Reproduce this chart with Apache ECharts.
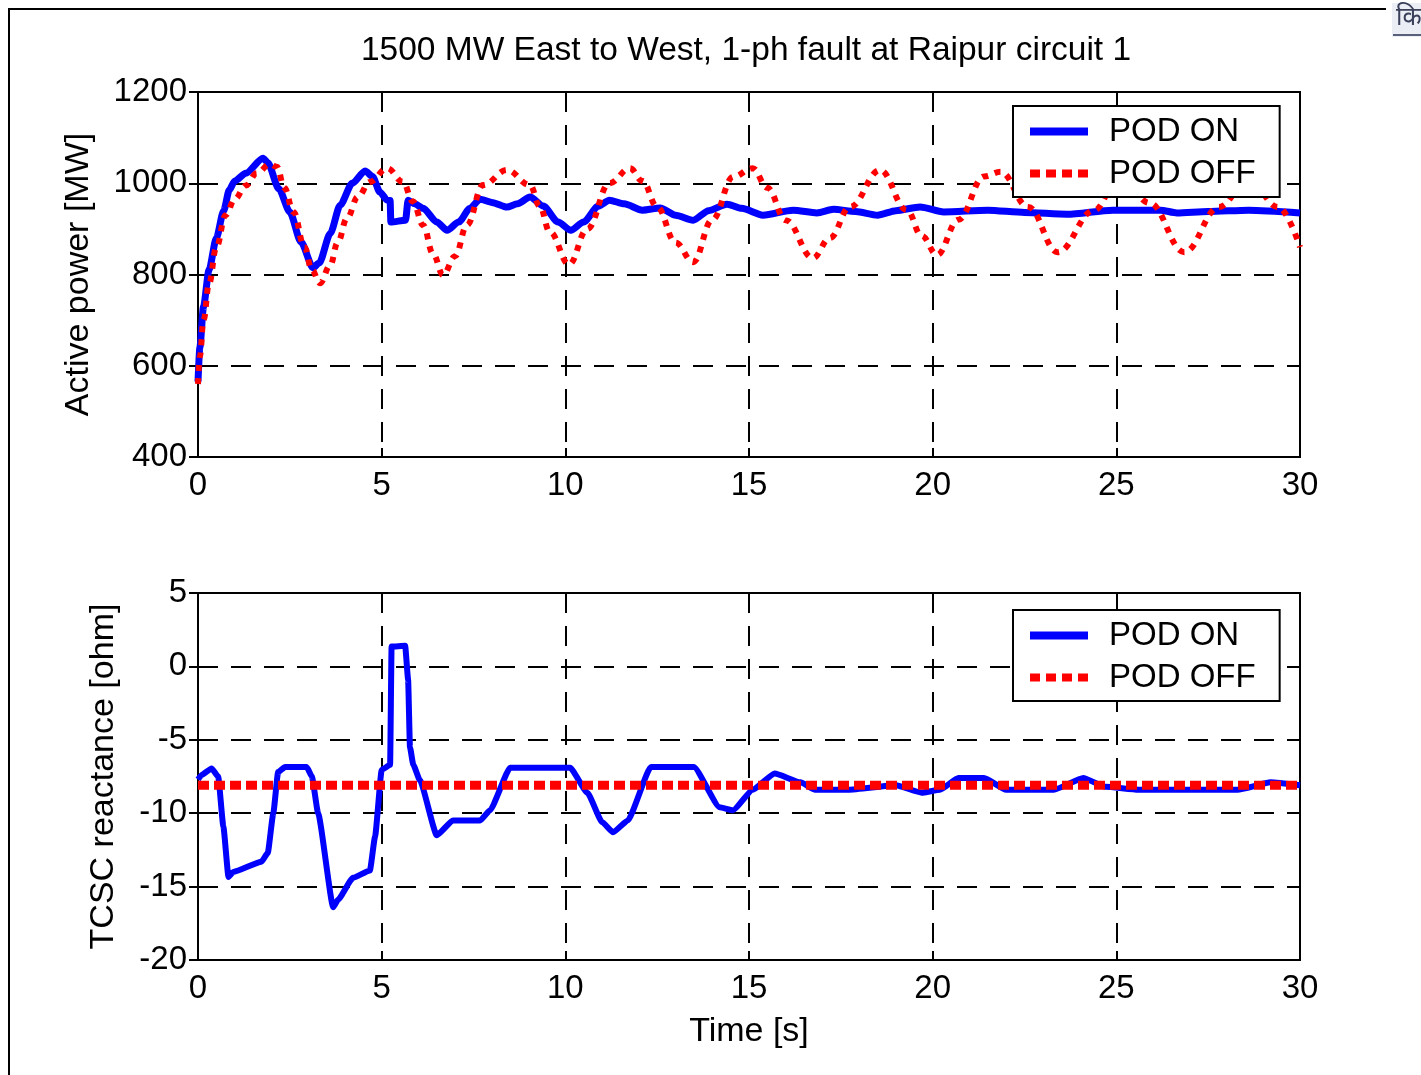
<!DOCTYPE html>
<html>
<head>
<meta charset="utf-8">
<title>TCSC POD response</title>
<script src="https://cdn.jsdelivr.net/npm/echarts@6/dist/echarts.min.js"></script>
<style>
  html, body { margin: 0; padding: 0; background: #fff; }
  #chart { width: 1421px; height: 1075px; }
</style>
</head>
<body>
<div id="chart"></div>
<script>
// Active power [MW] on the line, [time s, value]
const powerPodOn = [
  [0, 565], [0.05, 640], [0.15, 730], [0.3, 810], [0.5, 880], [0.7, 940], [0.85, 985],
  [1.0, 1005], [1.3, 1022], [1.77, 1055], [1.9, 1045], [2.2, 988], [2.5, 937], [2.8, 872],
  [3.13, 815], [3.3, 825], [3.6, 890], [3.87, 952], [4.2, 1000], [4.55, 1027], [4.75, 1015],
  [4.95, 981], [5.15, 963], [5.23, 962], [5.25, 915], [5.65, 919], [5.72, 963], [5.9, 955],
  [6.13, 945], [6.5, 915], [6.78, 897], [7.1, 915], [7.4, 945], [7.68, 965], [8.0, 958],
  [8.41, 948], [8.7, 955], [9.04, 970], [9.4, 950], [9.8, 915], [10.15, 897], [10.5, 915],
  [10.9, 950], [11.2, 963], [11.6, 955], [12.1, 941], [12.58, 946], [13.0, 930], [13.48, 919],
  [13.9, 940], [14.4, 954], [14.8, 945], [15.38, 930], [16.2, 941], [16.85, 935], [17.3, 943],
  [17.9, 938], [18.5, 930], [19.0, 940], [19.66, 948], [20.3, 937], [21.5, 941], [22.5, 936],
  [23.66, 932], [24.9, 941], [26.2, 941], [26.65, 935], [27.5, 938], [28.6, 941], [30, 935]
];
const powerPodOff = [
  [0, 560], [0.05, 620], [0.15, 700], [0.3, 780], [0.5, 860], [0.75, 930], [1.0, 965],
  [1.3, 995], [1.6, 1022], [1.96, 1042], [2.15, 1036], [2.35, 990], [2.6, 937], [2.9, 860],
  [3.1, 810], [3.32, 781], [3.6, 820], [3.8, 870], [4.06, 924], [4.35, 970], [4.68, 1003],
  [5.15, 1033], [5.58, 1003], [5.85, 960], [6.13, 908], [6.4, 845], [6.67, 799], [7.0, 840],
  [7.32, 908], [7.76, 996], [8.41, 1029], [9.04, 996], [9.3, 950], [9.58, 893], [10.1, 822],
  [10.6, 900], [11.2, 1000], [11.76, 1033], [12.1, 1005], [12.5, 948], [13.0, 870], [13.48, 827],
  [14.0, 920], [14.57, 1014], [15.1, 1033], [15.5, 990], [16.0, 919], [16.74, 836], [17.2, 880],
  [17.75, 948], [18.57, 1029], [19.3, 941], [19.7, 885], [20.12, 843], [20.7, 920], [21.4, 1015],
  [21.85, 1025], [22.6, 948], [23.4, 849], [24.4, 941], [25.1, 1020], [25.9, 957], [26.85, 849],
  [27.8, 948], [28.6, 1010], [29.4, 948], [30, 860]
];

// TCSC reactance [ohm], [time s, value]
const reactPodOn = [
  [0, -7.7], [0.1, -7.4], [0.37, -6.95], [0.55, -7.5], [0.69, -10.9], [0.83, -14.35],
  [0.96, -14.0], [1.73, -13.3], [1.9, -12.7], [2.05, -10.0], [2.18, -7.2], [2.37, -6.85],
  [2.96, -6.85], [3.1, -7.5], [3.27, -10.0], [3.68, -16.4], [3.81, -15.9], [4.22, -14.4],
  [4.68, -13.9], [4.82, -11.6], [5.0, -7.05], [5.23, -6.7], [5.27, 1.35], [5.64, 1.4],
  [5.72, -0.9], [5.77, -5.5], [5.86, -6.7], [6.04, -7.75], [6.5, -11.5], [6.94, -10.5],
  [7.68, -10.5], [7.95, -9.8], [8.5, -6.9], [10.13, -6.9], [10.6, -8.6], [11.0, -10.6],
  [11.3, -11.3], [11.7, -10.5], [12.33, -6.85], [13.5, -6.85], [14.2, -9.6], [14.57, -9.8],
  [15.1, -8.4], [15.7, -7.3], [16.4, -7.9], [16.8, -8.4], [17.7, -8.4], [19.0, -8.1],
  [19.7, -8.6], [20.2, -8.4], [20.7, -7.6], [21.4, -7.6], [22.0, -8.4], [23.3, -8.4],
  [24.1, -7.6], [24.7, -8.2], [25.6, -8.4], [28.3, -8.4], [29.2, -7.9], [30, -8.1]
];
const reactPodOff = [[0, -8.1], [30, -8.1]];

// axis ranges and tick steps
const timeRange = [0, 30, 5];
const powerRange = [400, 1200, 200];
const reactRange = [-20, 5, 5];

const FONT = 'Liberation Sans, Arial, Helvetica, sans-serif';
const FS = 33;
const NAME_FS = 34;
const gridLine = { show: true, lineStyle: { color: '#000', width: 2, type: [20, 13] } };
const plain = v => String(v);

// legend glyphs: solid bar and a row of square dots
const ICON_SOLID = 'path://M0,0h58v8h-58z';
const ICON_DOTS = 'path://M0,0h10v8h-10z M16,0h10v8h-10z M32,0h10v8h-10z M48,0h10v8h-10z';

function mainX(gridIndex, withName) {
  return {
    type: 'value', gridIndex, min: timeRange[0], max: timeRange[1], interval: timeRange[2],
    position: 'bottom',
    axisLine: { show: true, onZero: false, lineStyle: { color: '#000', width: 2 } },
    axisTick: { show: true, inside: true, length: 9, lineStyle: { color: '#000', width: 2 } },
    axisLabel: { margin: 12, color: '#000', fontSize: FS, fontFamily: FONT, formatter: plain },
    splitLine: gridLine,
    name: withName ? 'Time [s]' : '', nameLocation: 'middle', nameGap: 55,
    nameTextStyle: { color: '#000', fontSize: NAME_FS, fontFamily: FONT }
  };
}
function sideX(gridIndex) {
  return {
    type: 'value', gridIndex, min: timeRange[0], max: timeRange[1], interval: timeRange[2],
    position: 'top',
    axisLine: { show: false },
    axisTick: { show: true, inside: true, length: 9, lineStyle: { color: '#000', width: 2 } },
    axisLabel: { show: false }, splitLine: { show: false }
  };
}
function mainY(gridIndex, range, name, gap) {
  return {
    type: 'value', gridIndex, min: range[0], max: range[1], interval: range[2],
    position: 'left',
    axisLine: { show: true, onZero: false, lineStyle: { color: '#000', width: 2 } },
    axisTick: { show: true, inside: true, length: 9, lineStyle: { color: '#000', width: 2 } },
    axisLabel: { margin: 11, color: '#000', fontSize: FS, fontFamily: FONT, formatter: plain },
    splitLine: gridLine,
    name, nameLocation: 'middle', nameGap: gap,
    nameTextStyle: { color: '#000', fontSize: NAME_FS, fontFamily: FONT }
  };
}
function sideY(gridIndex, range) {
  return {
    type: 'value', gridIndex, min: range[0], max: range[1], interval: range[2],
    position: 'right',
    axisLine: { show: false },
    axisTick: { show: true, inside: true, length: 9, lineStyle: { color: '#000', width: 2 } },
    axisLabel: { show: false }, splitLine: { show: false }
  };
}
function legendBox(top) {
  return {
    orient: 'vertical', left: 1013, top, z: 20,
    padding: [9, 24, 7, 17], itemGap: 9,
    itemWidth: 58, itemHeight: 8,
    backgroundColor: '#fff', borderColor: '#000', borderWidth: 2, borderRadius: 0,
    textStyle: { color: '#000', fontSize: FS, fontFamily: FONT, padding: [0, 0, 0, 16] },
    selectedMode: false,
    data: [
      { name: 'POD ON', icon: ICON_SOLID, itemStyle: { color: '#0000ff', borderWidth: 0 } },
      { name: 'POD OFF', icon: ICON_DOTS, itemStyle: { color: '#ff0000', borderWidth: 0 } }
    ]
  };
}

const chart = echarts.init(document.getElementById('chart'), null, { renderer: 'canvas' });
chart.setOption({
  backgroundColor: '#fff',
  animation: false,
  title: {
    text: '1500 MW East to West, 1-ph fault at Raipur circuit 1',
    left: 746, top: 34, textAlign: 'center', padding: 0,
    textStyle: { color: '#000', fontSize: 33.5, fontWeight: 'normal', fontFamily: FONT }
  },
  grid: [
    { left: 198, top: 92, width: 1102, height: 365, show: true, borderColor: '#000', borderWidth: 2, backgroundColor: '#fff' },
    { left: 198, top: 593, width: 1102, height: 367, show: true, borderColor: '#000', borderWidth: 2, backgroundColor: '#fff' }
  ],
  legend: [legendBox(106), legendBox(610)],
  xAxis: [mainX(0, false), mainX(1, true), sideX(0), sideX(1)],
  yAxis: [
    mainY(0, powerRange, 'Active power [MW]', 102),
    mainY(1, reactRange, 'TCSC reactance [ohm]', 77),
    sideY(0, powerRange), sideY(1, reactRange)
  ],
  series: [
    {
      name: 'POD ON', type: 'line', xAxisIndex: 0, yAxisIndex: 0, data: powerPodOn,
      symbol: 'none', smooth: 0.25, smoothMonotone: 'x',
      lineStyle: { color: '#0000ff', width: 7, join: 'round' }, itemStyle: { color: '#0000ff' }, z: 3
    },
    {
      name: 'POD OFF', type: 'line', xAxisIndex: 0, yAxisIndex: 0, data: powerPodOff,
      symbol: 'none', smooth: 0.4, smoothMonotone: 'x',
      lineStyle: { color: '#ff0000', width: 6, type: [6, 7], cap: 'butt' }, itemStyle: { color: '#ff0000' }, z: 4
    },
    {
      name: 'POD ON', type: 'line', xAxisIndex: 1, yAxisIndex: 1, data: reactPodOn,
      symbol: 'none', smooth: 0.15, smoothMonotone: 'x',
      lineStyle: { color: '#0000ff', width: 6, join: 'round' }, itemStyle: { color: '#0000ff' }, z: 3
    },
    {
      name: 'POD OFF', type: 'line', xAxisIndex: 1, yAxisIndex: 1, data: reactPodOff,
      symbol: 'none',
      lineStyle: { color: '#ff0000', width: 9, type: [11, 5], cap: 'butt' }, itemStyle: { color: '#ff0000' }, z: 4
    }
  ],
  graphic: [
    {
      type: 'polyline', silent: true,
      shape: { points: [[9, 1075], [9, 9], [1386, 9]] },
      style: { stroke: '#000', lineWidth: 2, fill: null }
    },
    {
      type: 'rect', silent: true,
      shape: { x: 1392, y: 3, width: 29, height: 34 },
      style: { fill: '#eceef5' }
    },
    {
      type: 'text', silent: true, left: 1396, top: 5,
      style: { text: 'कि', fill: '#3a3f5a', fontSize: 25, fontFamily: 'Noto Sans, sans-serif' }
    },
    {
      type: 'line', silent: true,
      shape: { x1: 1393, y1: 35, x2: 1421, y2: 35 },
      style: { stroke: '#5a5f7a', lineWidth: 2 }
    }
  ]
});
</script>
</body>
</html>
